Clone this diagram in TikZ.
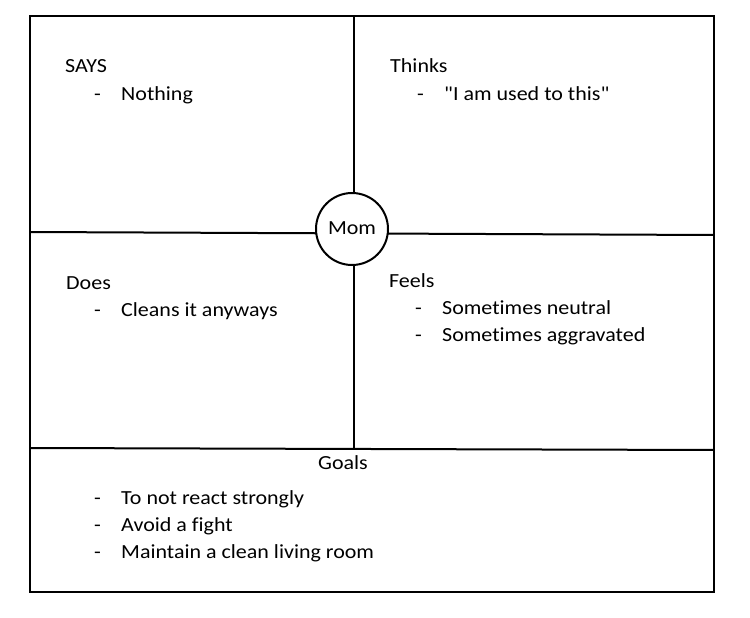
\documentclass[tikz,border=0pt]{standalone}
\usepackage{fontspec}
\setmainfont{Carlito}[Ligatures={NoCommon,TeXOff}, FakeStretch=1.1]
\tikzset{
    every node/.style={inner sep=0pt, font=\fontsize{20}{24}\selectfont},
    head/.style={anchor=base west},
    item/.style={anchor=base west},
    bullet/.style={anchor=base west},
    grid line/.style={line width=2pt}
}

\begin{document}
\begin{tikzpicture}[x=1pt, y=-1pt]
        \useasboundingbox (0,0) rectangle (750,618);
        % frame corners
        \coordinate (tl) at (30,16);
        \coordinate (tr) at (714,16);
        \coordinate (bl) at (30,592);
        \coordinate (br) at (714,592);
        \coordinate (vt) at (354,16);
        \coordinate (vb) at (354,448);
        \coordinate (ml) at (30,232);
        \coordinate (mr) at (714,235);
        \coordinate (gl) at (30,448);
        \coordinate (gr) at (714,450);
        \draw [grid line] (tl) -- (tr) -- (br) -- (bl) -- cycle;
        \draw [grid line] (vt) -- (vb);
        \draw [grid line] (ml) -- (mr);
        \draw [grid line] (gl) -- (gr);
        \node (mom) [circle, draw, line width=2pt, fill=white, minimum size=72pt] at (352,229) {\raisebox{2pt}{Mom}};
        % says
        \node (says) [head] at (65,73) {SAYS};
        \node (d1) [bullet] at (94,100) {-};
        \node (s1) [item] at (121,100) {Nothing};
        % thinks
        \node (thinks) [head] at (390,73) {Thinks};
        \node (d2) [bullet] at (417,100) {-};
        \node (t1) [item] at (444,100) {"I am used to this"};
        % does
        \node (does) [head] at (66,289) {Does};
        \node (d3) [bullet] at (94,316) {-};
        \node (o1) [item] at (121,316) {Cleans it anyways};
        % feels
        \node (feels) [head] at (389,287) {Feels};
        \node (d4) [bullet] at (415,314) {-};
        \node (f1) [item] at (442,314) {Sometimes neutral};
        \node (d5) [bullet] at (415,341) {-};
        \node (f2) [item] at (442,341) {Sometimes aggravated};
        % goals
        \node (goals) [anchor=base] at (343,469) {Goals};
        \node (d6) [bullet] at (94,504) {-};
        \node (g1) [item] at (121,504) {To not react strongly};
        \node (d7) [bullet] at (94,531) {-};
        \node (g2) [item] at (121,531) {Avoid a fight};
        \node (d8) [bullet] at (94,558) {-};
        \node (g3) [item] at (121,558) {Maintain a clean living room};
\end{tikzpicture}
\end{document}
